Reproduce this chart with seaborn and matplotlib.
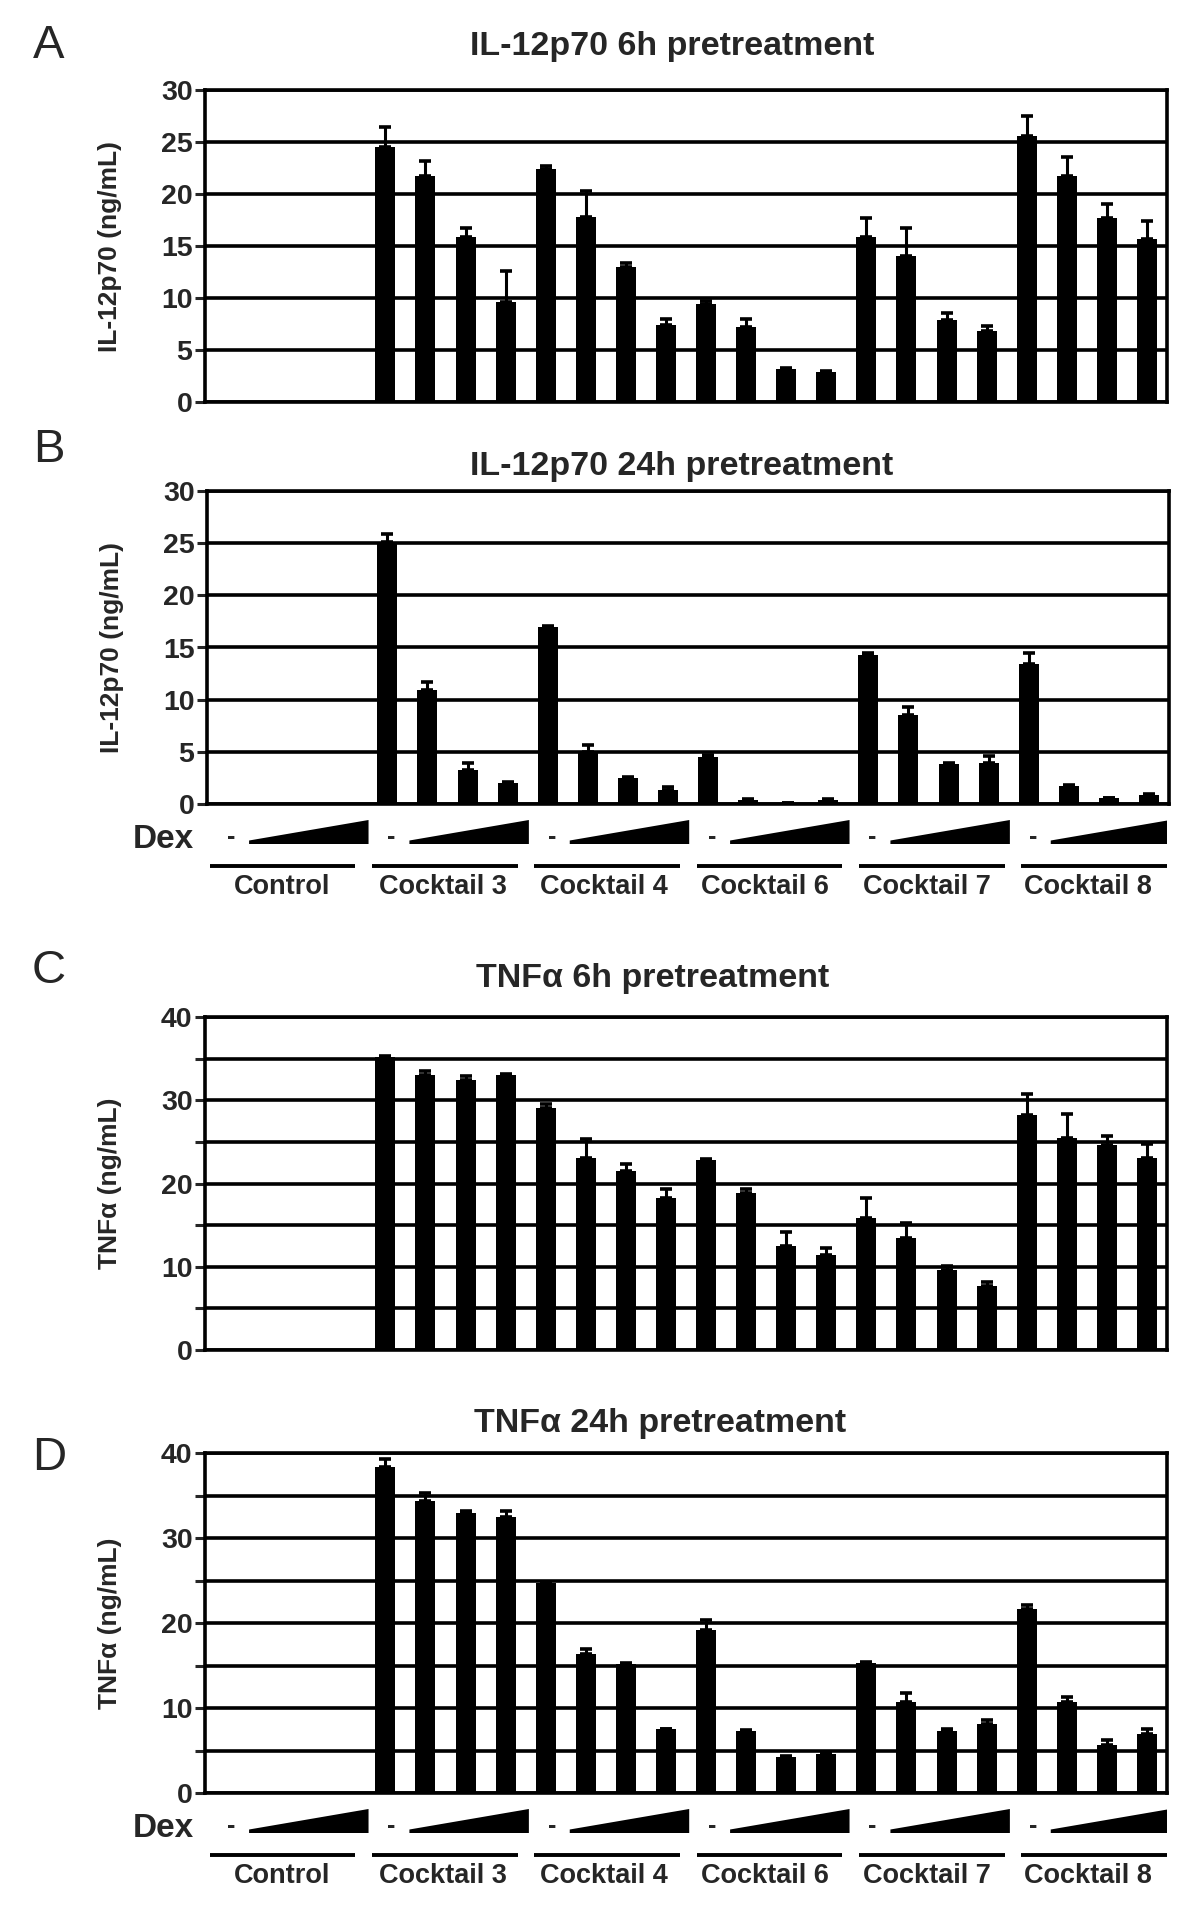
import numpy as np
import pandas as pd
import matplotlib
matplotlib.use("Agg")
import matplotlib.pyplot as plt
from matplotlib.patches import Polygon
import seaborn as sns

# ---- data (control group has no bars) ----
groups = ["Control", "Cocktail 3", "Cocktail 4", "Cocktail 6", "Cocktail 7", "Cocktail 8"]
n_dex = 4  # "-" then three increasing Dex doses

il12_6h = [24.5, 21.7, 15.9, 9.6, 22.4, 17.8, 13.0, 7.4, 9.4, 7.2, 3.2, 2.9,
           15.9, 14.0, 7.9, 6.8, 25.6, 21.7, 17.7, 15.7]
il12_6h_err = [1.9, 1.5, 0.8, 3.0, 0.3, 2.5, 0.4, 0.6, 0.3, 0.8, 0.1, 0.1,
               1.8, 2.7, 0.7, 0.5, 1.9, 1.9, 1.3, 1.7]

il12_24h = [25.1, 10.95, 3.3, 2.0, 17.0, 5.0, 2.5, 1.3, 4.5, 0.4, 0.05, 0.4,
            14.3, 8.5, 3.8, 3.9, 13.4, 1.7, 0.55, 0.85]
il12_24h_err = [0.8, 0.7, 0.6, 0.1, 0.1, 0.7, 0.1, 0.3, 0.15, 0.05, 0.0, 0.05,
                0.15, 0.8, 0.1, 0.7, 1.1, 0.15, 0.05, 0.1]

tnf_6h = [35.2, 33.0, 32.4, 33.0, 29.1, 23.1, 21.5, 18.3, 22.8, 18.9, 12.5, 11.4,
          15.8, 13.5, 9.6, 7.7, 28.2, 25.5, 24.6, 23.1]
tnf_6h_err = [0.1, 0.5, 0.5, 0.1, 0.5, 2.3, 0.8, 1.0, 0.2, 0.4, 1.7, 0.8,
              2.4, 1.8, 0.5, 0.5, 2.5, 2.8, 1.1, 1.6]

tnf_24h = [38.3, 34.3, 33.0, 32.5, 24.7, 16.3, 15.2, 7.55, 19.2, 7.35, 4.2, 4.6,
           15.3, 10.7, 7.35, 8.1, 21.6, 10.7, 5.7, 6.96]
tnf_24h_err = [1.0, 1.0, 0.2, 0.7, 0.05, 0.6, 0.1, 0.0, 1.1, 0.1, 0.1, 0.1,
               0.1, 1.1, 0.15, 0.5, 0.5, 0.6, 0.55, 0.55]

# ---- style ----
sns.set_style("white")
plt.rcParams["font.family"] = ["Liberation Sans", "DejaVu Sans"]
plt.rcParams["font.weight"] = "bold"

W, H = 1200, 1910
fig = plt.figure(figsize=(W / 100, H / 100), dpi=100)

n_pos = len(groups) * n_dex
pos = np.arange(n_dex, n_pos)  # cocktail bars only


def fig_rect(left, top, right, bottom):
    return [left / W, 1 - bottom / H, (right - left) / W, (bottom - top) / H]


def draw_panel(rect, vals, errs, ymax, step, label_step, ylabel):
    ax = fig.add_axes(rect)
    df = pd.DataFrame({"pos": pos, "val": vals, "err": errs})
    sns.barplot(data=df, x="pos", y="val", native_scale=True, color="black",
                width=0.5, errorbar=None, linewidth=0, saturation=1, ax=ax, zorder=3)
    ax.errorbar(df["pos"], df["val"], yerr=[np.zeros(len(df)), df["err"]],
                fmt="none", ecolor="black", elinewidth=2.2, capsize=4.5,
                capthick=2.6, zorder=4)
    ax.set_xlim(-0.5, n_pos - 0.5)
    ax.set_ylim(0, ymax)
    ticks = np.arange(0, ymax + 0.1, step)
    ax.set_yticks(ticks)
    ax.set_yticklabels([f"{t:g}" if t % label_step == 0 else "" for t in ticks],
                       fontsize=20.5, fontweight="bold")
    ax.set_xticks([])
    ax.set_xlabel("")
    ax.set_ylabel(ylabel, fontsize=19, fontweight="bold")
    ax.yaxis.set_label_coords(-0.086, 0.5)
    ax.tick_params(axis="y", direction="out", length=7, width=2.2, pad=2, left=True)
    ax.yaxis.grid(True, color="black", linewidth=2.6)
    ax.set_axisbelow(True)
    for s in ax.spines.values():
        s.set_visible(True)
        s.set_color("black")
        s.set_linewidth(2.6)
    # left axis line runs a little below zero
    ax.plot([-0.5, -0.5], [0, -0.03], color="black", lw=2.6,
            transform=ax.get_yaxis_transform(), clip_on=False)
    return ax


def draw_dex_row(axis_bottom):
    ann = fig.add_axes(fig_rect(205, axis_bottom, 1167, axis_bottom + 100))
    ann.set_xlim(-0.5, n_pos - 0.5)
    ann.set_ylim(100, 0)
    ann.axis("off")
    ann.text(-1.55, 35, "Dex", fontsize=24, fontweight="bold",
             ha="center", va="center", clip_on=False)
    for g, name in enumerate(groups):
        x0 = g * n_dex
        ann.text(x0 + 0.15, 33, "-", fontsize=18, fontweight="bold",
                 ha="center", va="center")
        ann.add_patch(Polygon([(x0 + 0.6, 40), (x0 + 0.6, 36.5),
                               (x0 + 3.58, 16), (x0 + 3.58, 40)],
                              closed=True, facecolor="black", edgecolor="none"))
        ann.plot([x0 - 0.38 + 0.05 * g, x0 + 3.25 + 0.05 * g], [62, 62],
                 color="black", lw=2.8, solid_capstyle="butt")
        ann.text(x0 + 1.42 + 0.02 * g, 83, name, fontsize=19.5, fontweight="bold",
                 ha="center", va="center")


ylab_il12 = "IL-12p70 (ng/mL)"
ylab_tnf = "TNF\u03b1 (ng/mL)"

draw_panel(fig_rect(205, 90, 1167, 402), il12_6h, il12_6h_err, 30, 5, 5, ylab_il12)
draw_panel(fig_rect(207, 491, 1169, 804), il12_24h, il12_24h_err, 30, 5, 5, ylab_il12)
draw_dex_row(804)
draw_panel(fig_rect(205, 1017, 1167, 1350), tnf_6h, tnf_6h_err, 40, 5, 10, ylab_tnf)
draw_panel(fig_rect(205, 1453, 1167, 1793), tnf_24h, tnf_24h_err, 40, 5, 10, ylab_tnf)
draw_dex_row(1793)

# titles and panel letters
titles = [("IL-12p70 6h pretreatment", 672, 46),
          ("IL-12p70 24h pretreatment", 682, 467),
          ("TNF\u03b1 6h pretreatment", 653, 978),
          ("TNF\u03b1 24h pretreatment", 660, 1423)]
for txt, x, y in titles:
    fig.text(x / W, 1 - y / H, txt, fontsize=24.5, fontweight="bold",
             ha="center", va="center")

letters = [("A", 46), ("B", 450), ("C", 971), ("D", 1458)]
for txt, y in letters:
    fig.text(49 / W, 1 - y / H, txt, fontsize=34, fontweight="normal",
             ha="center", va="center")

fig.savefig("out.png", dpi=100, facecolor="white")
plt.close(fig)
